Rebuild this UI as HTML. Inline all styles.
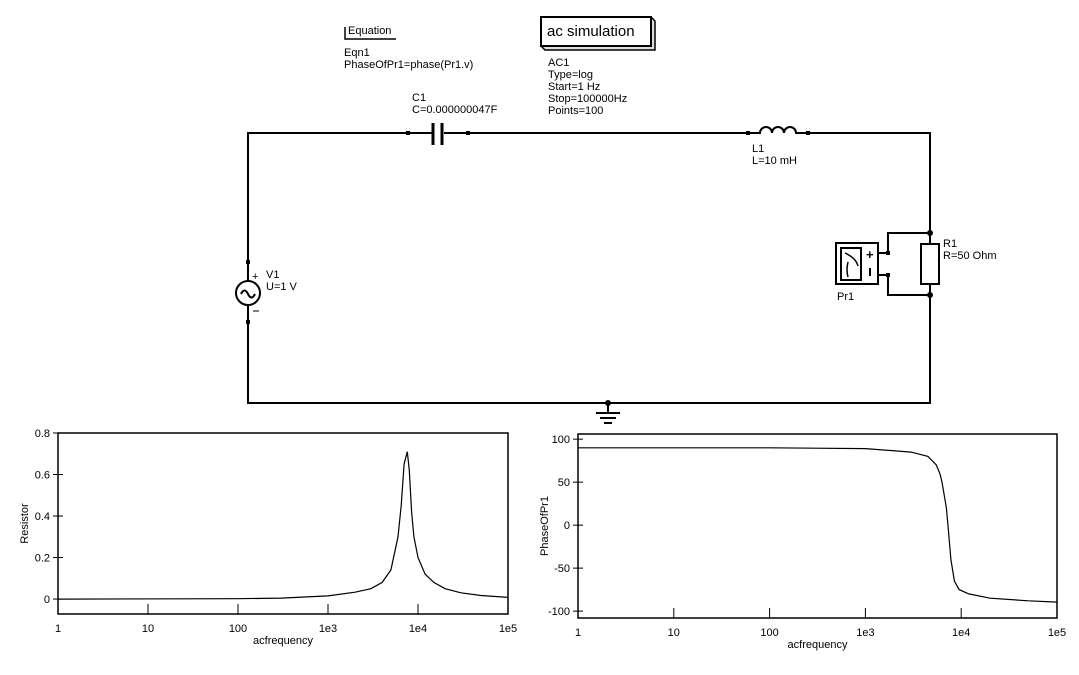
<!DOCTYPE html>
<html><head><meta charset="utf-8"><style>
html,body{margin:0;padding:0;background:#fff;}
svg{display:block;font-family:"Liberation Sans",sans-serif;}
</style></head><body>
<svg id="s" width="1079" height="675" viewBox="0 0 1079 675" xmlns="http://www.w3.org/2000/svg">
<g stroke="#000" stroke-width="2" fill="none">
  <path d="M248 262 V133 H408 M468 133 H748 M808 133 H930 V233 M930 295 V403 H248 V322" />
  <path d="M930 233 H888 V253 M930 295 H888 V275" />
</g>
<g>
  <line x1="408" y1="133" x2="432" y2="133" stroke="#000" stroke-width="2"/>
  <line x1="444" y1="133" x2="468" y2="133" stroke="#000" stroke-width="2"/>
  <line x1="433" y1="123" x2="433" y2="145" stroke="#000" stroke-width="3"/>
  <line x1="442" y1="123" x2="442" y2="145" stroke="#000" stroke-width="3"/>
  <rect x="406" y="131" width="4" height="4" fill="#000"/><rect x="466" y="131" width="4" height="4" fill="#000"/>
</g>
<g stroke="#000" stroke-width="2" fill="none">
  <path d="M748 133 H760 a6 6 0 0 1 12 0 a6 6 0 0 1 12 0 a6 6 0 0 1 12 0 H808"/>
  <rect x="746" y="131" width="4" height="4" fill="#000" stroke="none"/><rect x="806" y="131" width="4" height="4" fill="#000" stroke="none"/>
</g>
<g>
  <rect x="921" y="244" width="18" height="40" fill="#fff" stroke="#000" stroke-width="2"/>
  <line x1="930" y1="233" x2="930" y2="244" stroke="#000" stroke-width="2"/>
  <line x1="930" y1="284" x2="930" y2="295" stroke="#000" stroke-width="2"/>
  <circle cx="930" cy="233" r="3" fill="#000"/><circle cx="930" cy="295" r="3" fill="#000"/>
</g>
<g>
  <rect x="836" y="243" width="42" height="41" fill="#fff" stroke="#000" stroke-width="2"/>
  <rect x="841" y="248" width="20" height="32" fill="none" stroke="#000" stroke-width="2"/>
  <path d="M845 253 Q856 258 858 266 M848 262 Q846 270 848 277" stroke="#000" stroke-width="1.5" fill="none"/>
  <text x="866" y="259" font-size="13" font-weight="bold">+</text>
  <line x1="870" y1="268" x2="870" y2="276" stroke="#000" stroke-width="2"/>
  <line x1="878" y1="253" x2="888" y2="253" stroke="#000" stroke-width="2"/>
  <line x1="878" y1="275" x2="888" y2="275" stroke="#000" stroke-width="2"/>
  <rect x="886" y="251" width="4" height="4" fill="#000"/><rect x="886" y="273" width="4" height="4" fill="#000"/>
</g>
<g>
  <line x1="248" y1="262" x2="248" y2="281" stroke="#000" stroke-width="2"/>
  <line x1="248" y1="305" x2="248" y2="322" stroke="#000" stroke-width="2"/>
  <circle cx="248" cy="293" r="12" fill="none" stroke="#000" stroke-width="2"/>
  <path d="M241 294 q3.5 -7 7 0 t7 0" stroke="#000" stroke-width="2" fill="none"/>
  <text x="252" y="280" font-size="11">+</text>
  <line x1="253" y1="311" x2="259" y2="311" stroke="#000" stroke-width="1"/>
  <rect x="246" y="260" width="4" height="4"/><rect x="246" y="320" width="4" height="4"/>
</g>
<g>
  <circle cx="608" cy="403" r="3" fill="#000"/>
  <line x1="608" y1="403" x2="608" y2="412" stroke="#000" stroke-width="2"/>
  <line x1="596" y1="413" x2="620" y2="413" stroke="#000" stroke-width="2"/>
  <line x1="600" y1="418" x2="616" y2="418" stroke="#000" stroke-width="2"/>
  <line x1="604" y1="423" x2="612" y2="423" stroke="#000" stroke-width="2"/>
</g>
<g font-size="11" fill="#000">
  <text x="348" y="34">Equation</text>
  <path d="M345 27 V39 H396" stroke="#000" stroke-width="1.5" fill="none"/>
  <text x="344" y="56">Eqn1</text>
  <text x="344" y="68">PhaseOfPr1=phase(Pr1.v)</text>
  <text x="412" y="101">C1</text><text x="412" y="113">C=0.000000047F</text>
  <text x="548" y="66">AC1</text><text x="548" y="78">Type=log</text><text x="548" y="90">Start=1 Hz</text><text x="548" y="102">Stop=100000Hz</text><text x="548" y="114">Points=100</text>
  <text x="752" y="152">L1</text><text x="752" y="164">L=10 mH</text>
  <text x="943" y="247">R1</text><text x="943" y="259">R=50 Ohm</text>
  <text x="837" y="300">Pr1</text>
  <text x="266" y="278">V1</text><text x="266" y="290">U=1 V</text>
</g>
<g>
  <path d="M541 46 L545 50 H655 V21 L651 17" fill="#ddd" stroke="#000" stroke-width="1.5"/>
  <rect x="541" y="17" width="110" height="29" fill="#fff" stroke="#000" stroke-width="2"/>
  <text x="547" y="36" font-size="15">ac simulation</text>
</g>
<g id="p1"></g>
<g id="p2"></g>
</svg>
<script>
const freqR = [1, 100, 300, 1000, 2000, 3000, 4000, 5000, 6000, 6500, 7000, 7600, 8000, 8500, 9000, 10000, 12000, 15000, 20000, 30000, 50000, 100000];
const valR  = [0, 0.0015, 0.0045, 0.015, 0.033, 0.05, 0.08, 0.14, 0.3, 0.45, 0.65, 0.71, 0.62, 0.42, 0.3, 0.2, 0.12, 0.08, 0.05, 0.03, 0.017, 0.008];
const freqP = [1, 100, 300, 1000, 3000, 4500, 5500, 6000, 6300, 7000, 7400, 7800, 8500, 9500, 12000, 20000, 50000, 100000];
const valP  = [90, 89.9, 89.5, 89, 85, 80, 70, 60, 50, 20, -10, -40, -65, -75, -80, -85, -88, -89.5];
const xTicks = ["1","10","100","1e3","1e4","1e5"];
const yTicksR = [0, 0.2, 0.4, 0.6, 0.8];
const yTicksP = [-100, -50, 0, 50, 100];
const NS="http://www.w3.org/2000/svg";
function mk(parent, tag, attrs, txt){const e=document.createElementNS(NS,tag);for(const k in attrs)e.setAttribute(k,attrs[k]);if(txt!==undefined)e.textContent=txt;parent.appendChild(e);return e;}
function plot(g, L, R, T, B, ymin, ymax, freqs, vals, yticks, ytitle){
  const sx=f=>L+(R-L)*Math.log10(f)/5;
  const sy=v=>B-(B-T)*(v-ymin)/(ymax-ymin);
  const frame=mk(g,'rect',{x:L,y:T,width:R-L,height:B-T,fill:'none',stroke:'#000','stroke-width':1.5});
  
  
  xTicks.forEach((t,i)=>{const x=L+(R-L)*i/5;
    const tk=mk(g,'line',{x1:x,y1:B,x2:x,y2:B-10,stroke:'#000','stroke-width':1});
    
    
    const tl=mk(g,'text',{x:x,y:B+18,'font-size':11,'text-anchor':'middle'},t);
    
    });
  yticks.forEach(v=>{const y=sy(v);
    const tk=mk(g,'line',{x1:L-5,y1:y,x2:L+5,y2:y,stroke:'#000','stroke-width':1});
    
    
    const tl=mk(g,'text',{x:L-8,y:y+4,'font-size':11,'text-anchor':'end'},String(v));
    
    });
  const xt=mk(g,'text',{x:(L+R)/2-(R-L)*0.0,y:B+30,'font-size':11,'text-anchor':'middle'},'acfrequency');
  
  
  const yt=mk(g,'text',{x:0,y:0,'font-size':11,'text-anchor':'middle',transform:`translate(${L-30},${(T+B)/2}) rotate(-90)`},ytitle);
  
  
  const d=freqs.map((f,i)=>(i?'L':'M')+sx(f).toFixed(1)+' '+sy(vals[i]).toFixed(1)).join(' ');
  const ln=mk(g,'path',{d:d,fill:'none',stroke:'#000','stroke-width':1.2});
  
  
}
plot(document.getElementById('p1'),58,508,433,614,-0.072,0.8,freqR,valR,yTicksR,'Resistor');
plot(document.getElementById('p2'),578,1057,434,618,-108,106,freqP,valP,yTicksP,'PhaseOfPr1');
</script>
</body></html>
